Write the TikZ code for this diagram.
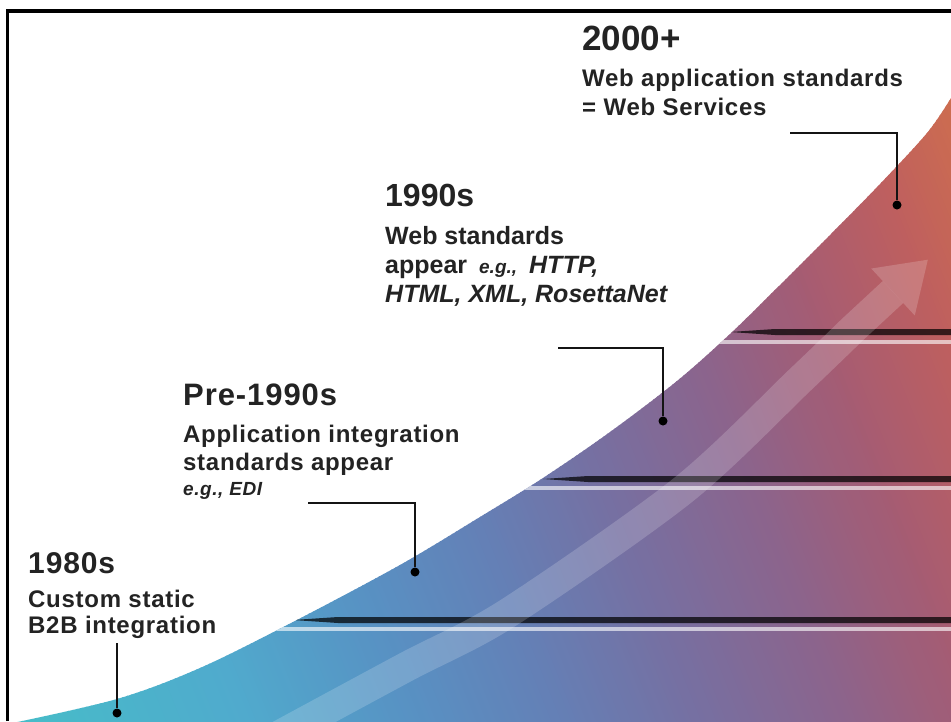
\documentclass[tikz,border=0pt]{standalone}
\usepackage{fontspec}
\setmainfont{Liberation Sans}
\newfontfamily\dinfont{Liberation Sans}[LetterSpace=3]
\usetikzlibrary{calc}
\definecolor{gA}{RGB}{70,190,200}
\definecolor{gB}{RGB}{80,170,205}
\definecolor{gC}{RGB}{88,145,195}
\definecolor{gD}{RGB}{100,128,182}
\definecolor{gE}{RGB}{118,112,162}
\definecolor{gF}{RGB}{140,100,140}
\definecolor{gG}{RGB}{165,92,115}
\definecolor{gH}{RGB}{190,95,95}
\definecolor{gI}{RGB}{212,115,72}
\definecolor{txt}{RGB}{35,35,35}
\tikzset{
  conn/.style={draw=black!92, line width=2.6pt},
  dot/.style={circle, fill=black, inner sep=0pt, minimum size=9pt},
  lbl/.style={anchor=base west, inner sep=0pt, text=txt},
  yrar/.style={lbl, font=\bfseries\fontsize{32}{36}\selectfont},
  yrdin/.style={lbl, font=\dinfont\bfseries\fontsize{31}{36}\selectfont},
  subdin/.style={lbl, font=\dinfont\bfseries\fontsize{24}{29}\selectfont},
  subar/.style={lbl, font=\bfseries\fontsize{25}{29}\selectfont},
  shelfdark/.style={fill=black, opacity=0.72},
  shelflight/.style={fill=white, opacity=0.62},
  band/.style={white, opacity=0.18}
}
\begin{document}
\begin{tikzpicture}[x=1pt,y=-1pt]
\useasboundingbox (0,0) rectangle (951,721);
\fill[white] (0,0) rectangle (951,721);

% coloured rising region
\begin{scope}
\clip plot[smooth, tension=0.55] coordinates {(8,724) (117,699) (200,668) (293,622) (400,565) (480,517) (543,478) (610,432) (677,381) (730,334) (780,285) (830,235) (880,184) (927,133) (951,98)} -- (960,90) -- (960,730) -- (0,730) -- cycle;
\foreach \sa/\sb/\cola/\colb in {0/250/gA/gB,250/420/gB/gC,420/560/gC/gD,560/700/gD/gE,700/850/gE/gF,850/980/gF/gG,980/1100/gG/gH,1100/1250/gH/gI}{
  \pgfmathtruncatemacro{\nn}{(\sb-\sa)/5-1}
  \foreach \i in {0,...,\nn}{
    \pgfmathsetmacro{\s}{\sa+5*\i}
    \pgfmathtruncatemacro{\p}{(5*\i+2.5)/(\sb-\sa)*100}
    \fill[\colb!\p!\cola] (\s,730) -- (\s+6.5,730) -- (\s+6.5-292,0) -- (\s-292,0) -- cycle;
  }
}
% shelves
\fill[shelflight] (230,627) rectangle (960,631);
\fill[shelfdark] (293,620) -- (338,617) -- (960,617) -- (960,623) -- (338,623) -- cycle;
\fill[shelflight] (480,486) rectangle (960,490);
\fill[shelfdark] (543,479) -- (588,476) -- (960,476) -- (960,482) -- (588,482) -- cycle;
\fill[shelflight] (670,340) rectangle (960,344);
\fill[shelfdark] (730,332) -- (775,329) -- (960,329) -- (960,335) -- (775,335) -- cycle;
% light rising arrow
\coordinate (bandP) at (852,330);
\coordinate (bandB) at (893,292);
\draw[band, line width=30pt] plot[smooth, tension=0.5] coordinates {(280,735) (406,667) (508,613) (683,490) (800,380) (852,330)} -- (bandB);
\fill[band] ($(bandB)!32pt!90:(bandP)$) -- ($(bandB)!-0.85!(bandP)$) -- ($(bandB)!32pt!-90:(bandP)$) -- cycle;
\end{scope}

% 2000+
\node[lbl, font=\bfseries\fontsize{35}{40}\selectfont] (y2000) at (582,50) {2000+};
\node[subdin] (s2000a) at (582,86) {Web application standards};
\node[subdin] (s2000b) at (582,115) {= Web Services};
\coordinate (c2000) at (790,133);
\node[dot] (d2000) at (897,205) {};
\draw[conn] (c2000) -| (d2000);

% 1990s
\node[yrar] (y1990) at (385,206) {1990s};
\node[subar] (s1990a) at (385,244) {Web standards};
\node[subar] (s1990b) at (385,273) {appear\hspace{12pt}{\fontsize{19}{20}\selectfont\itshape e.g.,}\hspace{12pt}\textit{HTTP,}};
\node[subar, font=\bfseries\itshape\fontsize{25}{29}\selectfont] (s1990c) at (385,302) {HTML, XML, RosettaNet};
\coordinate (c1990) at (558,348);
\node[dot] (d1990) at (663,421) {};
\draw[conn] (c1990) -| (d1990);

% Pre-1990s
\node[yrdin] (ypre) at (183,405) {Pre-1990s};
\node[subdin] (spre1) at (183,442) {Application integration};
\node[subdin] (spre2) at (183,470) {standards appear};
\node[lbl, font=\dinfont\bfseries\itshape\fontsize{19}{22}\selectfont] (spre3) at (183,495) {e.g., EDI};
\coordinate (cpre) at (308,503);
\node[dot] (dpre) at (415,572) {};
\draw[conn] (cpre) -| (dpre);

% 1980s
\node[yrdin, font=\dinfont\bfseries\fontsize{30}{36}\selectfont] (y1980) at (28,573) {1980s};
\node[subdin] (s1980a) at (28,607) {Custom static};
\node[subdin] (s1980b) at (28,633) {B2B integration};
\coordinate (c1980) at (117,643);
\node[dot] (d1980) at (117,713) {};
\draw[conn] (c1980) -- (d1980);

% frame
\draw[line width=3.3pt] (7.7,721) -- (7.7,11) -- (951,11);
\end{tikzpicture}
\end{document}
